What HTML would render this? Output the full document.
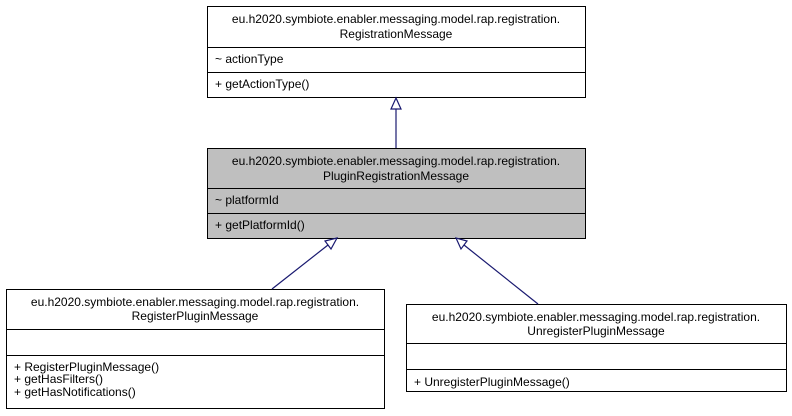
<!DOCTYPE html>
<html><head><meta charset="utf-8"><style>
html,body{margin:0;padding:0;background:#fff;}
svg{display:block;font-family:"Liberation Sans",Helvetica,Arial,sans-serif;font-size:12px;}
</style></head><body>
<svg width="792" height="416" viewBox="0 0 792 416" xmlns="http://www.w3.org/2000/svg">
<rect width="792" height="416" fill="#fff"/>
<!-- Top box -->
<rect x="207.5" y="6.5" width="378" height="91" fill="#fff" stroke="#000"/>
<line x1="207.5" y1="47.5" x2="585.5" y2="47.5" stroke="#000"/>
<line x1="207.5" y1="72.5" x2="585.5" y2="72.5" stroke="#000"/>
<text x="396" y="23" text-anchor="middle">eu.h2020.symbiote.enabler.messaging.model.rap.registration.</text>
<text x="396" y="38" text-anchor="middle">RegistrationMessage</text>
<text x="215" y="63">~ actionType</text>
<text x="215" y="88">+ getActionType()</text>
<!-- Middle box -->
<rect x="207.5" y="148.5" width="378" height="90" fill="#bfbfbf" stroke="#000"/>
<line x1="207.5" y1="188.5" x2="585.5" y2="188.5" stroke="#000"/>
<line x1="207.5" y1="213.5" x2="585.5" y2="213.5" stroke="#000"/>
<text x="396" y="165" text-anchor="middle">eu.h2020.symbiote.enabler.messaging.model.rap.registration.</text>
<text x="396" y="180" text-anchor="middle">PluginRegistrationMessage</text>
<text x="215" y="204">~ platformId</text>
<text x="215" y="229">+ getPlatformId()</text>
<!-- Bottom left -->
<rect x="6.5" y="289.5" width="378" height="119" fill="#fff" stroke="#000"/>
<line x1="6.5" y1="329.5" x2="384.5" y2="329.5" stroke="#000"/>
<line x1="6.5" y1="355.5" x2="384.5" y2="355.5" stroke="#000"/>
<text x="195" y="306" text-anchor="middle">eu.h2020.symbiote.enabler.messaging.model.rap.registration.</text>
<text x="195" y="320" text-anchor="middle">RegisterPluginMessage</text>
<text x="14" y="371">+ RegisterPluginMessage()</text>
<text x="14" y="383">+ getHasFilters()</text>
<text x="14" y="396">+ getHasNotifications()</text>
<!-- Bottom right -->
<rect x="406.5" y="304.5" width="380" height="87" fill="#fff" stroke="#000"/>
<line x1="406.5" y1="343.5" x2="786.5" y2="343.5" stroke="#000"/>
<line x1="406.5" y1="369.5" x2="786.5" y2="369.5" stroke="#000"/>
<text x="596" y="321" text-anchor="middle">eu.h2020.symbiote.enabler.messaging.model.rap.registration.</text>
<text x="596" y="335" text-anchor="middle">UnregisterPluginMessage</text>
<text x="414" y="386">+ UnregisterPluginMessage()</text>
<!-- Connectors -->
<g stroke="#191970" stroke-width="1.2" fill="#fff">
<line x1="396" y1="148" x2="396" y2="109"/>
<polygon points="396,98 391,109 401,109"/>
<line x1="272" y1="289" x2="328" y2="245"/>
<polygon points="337,238 325,241 331,249"/>
<line x1="538" y1="304" x2="464" y2="245"/>
<polygon points="456,238 461,249 467,241"/>
</g>
</svg>
</body></html>
